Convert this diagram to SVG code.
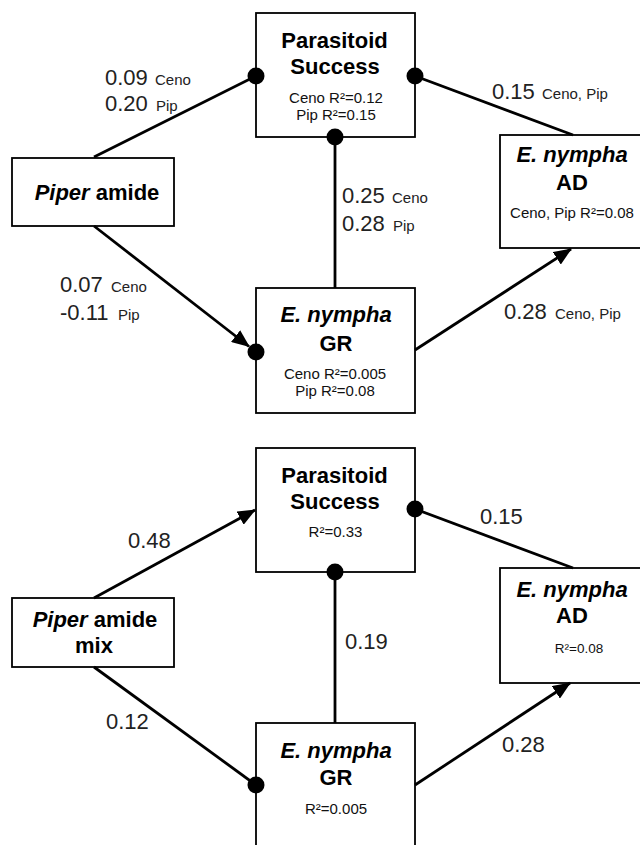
<svg xmlns="http://www.w3.org/2000/svg" width="640" height="845" viewBox="0 0 640 845">
<style>
.box{fill:#fff;stroke:#000;stroke-width:1.8}
.t{font-family:"Liberation Sans",Arial,Helvetica,sans-serif;font-weight:bold;font-size:22px;text-anchor:middle;fill:#000}
.i{font-style:italic}
.s{font-family:"Liberation Sans",Arial,Helvetica,sans-serif;font-size:15px;text-anchor:middle;fill:#111}
.n{font-family:"Liberation Sans",Arial,Helvetica,sans-serif;font-size:22px;fill:#222}
.sm{font-size:15px}
.c{stroke:#000;stroke-width:2.8;fill:none}
.a{marker-end:url(#arr)}
.dot{fill:#000}
</style>
<defs>
<marker id="arr" markerUnits="userSpaceOnUse" markerWidth="18" markerHeight="15" viewBox="0 0 18 15" refX="17" refY="7.5" orient="auto">
<path d="M0,0 L18,7.5 L0,15 z" fill="#000"/>
</marker>
</defs>

<!-- Top panel nodes -->
<g id="top-parasitoid">
<rect class="box" x="256" y="13" width="159" height="124"/>
<text class="t" x="334.5" y="48">Parasitoid</text>
<text class="t" x="335" y="74">Success</text>
<text class="s" x="336" y="103">Ceno R²=0.12</text>
<text class="s" x="336" y="120">Pip R²=0.15</text>
</g>
<g id="top-piper">
<rect class="box" x="12" y="158" width="162" height="68"/>
<text class="t" x="97" y="200"><tspan class="i">Piper</tspan> amide</text>
</g>
<g id="top-ad">
<rect class="box" x="500" y="135" width="150" height="113"/>
<text class="t i" x="572" y="162">E. nympha</text>
<text class="t" x="572" y="190">AD</text>
<text class="s" x="572" y="218">Ceno, Pip R²=0.08</text>
</g>
<g id="top-gr">
<rect class="box" x="256" y="288" width="159" height="125"/>
<text class="t i" x="336" y="322">E. nympha</text>
<text class="t" x="336" y="351">GR</text>
<text class="s" x="335" y="379">Ceno R²=0.005</text>
<text class="s" x="335" y="396">Pip R²=0.08</text>
</g>

<!-- Bottom panel nodes -->
<g id="bot-parasitoid">
<rect class="box" x="256" y="448" width="159" height="124"/>
<text class="t" x="334.5" y="483">Parasitoid</text>
<text class="t" x="335" y="509">Success</text>
<text class="s" x="335.5" y="537">R²=0.33</text>
</g>
<g id="bot-piper">
<rect class="box" x="12" y="598" width="162" height="69"/>
<text class="t" x="95" y="627"><tspan class="i">Piper</tspan> amide</text>
<text class="t" x="94" y="653">mix</text>
</g>
<g id="bot-ad">
<rect class="box" x="500" y="568" width="150" height="115"/>
<text class="t i" x="572" y="597">E. nympha</text>
<text class="t" x="572" y="623">AD</text>
<text class="s" x="579" y="653" style="font-size:13.5px">R²=0.08</text>
</g>
<g id="bot-gr">
<rect class="box" x="256" y="723" width="159" height="140"/>
<text class="t i" x="336" y="758">E. nympha</text>
<text class="t" x="336" y="785">GR</text>
<text class="s" x="336" y="814">R²=0.005</text>
</g>

<!-- Connectors -->
<g id="connectors">
<!-- top panel -->
<line class="c" x1="94" y1="157" x2="256" y2="76"/>
<circle class="dot" cx="256" cy="76" r="8.5"/>
<line class="c" x1="415" y1="76" x2="573" y2="135"/>
<circle class="dot" cx="415" cy="76" r="8.5"/>
<line class="c" x1="335" y1="137" x2="335" y2="288"/>
<circle class="dot" cx="335" cy="137" r="8.5"/>
<line class="c a" x1="94" y1="226" x2="249" y2="346.5"/>
<circle class="dot" cx="256" cy="352" r="8.5"/>
<line class="c a" x1="415" y1="350" x2="571" y2="249"/>
<!-- bottom panel -->
<line class="c a" x1="94" y1="598" x2="255" y2="510"/>
<line class="c" x1="415" y1="509" x2="573" y2="568"/>
<circle class="dot" cx="415" cy="509" r="8.5"/>
<line class="c" x1="335" y1="572" x2="335" y2="723"/>
<circle class="dot" cx="335" cy="572" r="8.5"/>
<line class="c" x1="94" y1="667" x2="256" y2="785"/>
<circle class="dot" cx="256" cy="785" r="8.5"/>
<line class="c a" x1="415" y1="785" x2="570" y2="683"/>

<!-- labels -->
<text class="n" x="105" y="85">0.09<tspan class="sm" x="155">Ceno</tspan></text>
<text class="n" x="105" y="111">0.20<tspan class="sm" x="156">Pip</tspan></text>
<text class="n" x="492" y="99">0.15<tspan class="sm" x="542">Ceno, Pip</tspan></text>
<text class="n" x="342" y="203">0.25<tspan class="sm" x="392">Ceno</tspan></text>
<text class="n" x="342" y="231">0.28<tspan class="sm" x="393">Pip</tspan></text>
<text class="n" x="60" y="292">0.07<tspan class="sm" x="111">Ceno</tspan></text>
<text class="n" x="60" y="320">-0.11<tspan class="sm" x="118">Pip</tspan></text>
<text class="n" x="504" y="319">0.28<tspan class="sm" x="555">Ceno, Pip</tspan></text>
<text class="n" x="128" y="548">0.48</text>
<text class="n" x="480" y="524">0.15</text>
<text class="n" x="345" y="649">0.19</text>
<text class="n" x="106" y="729">0.12</text>
<text class="n" x="502" y="752">0.28</text>
</g>
</svg>
